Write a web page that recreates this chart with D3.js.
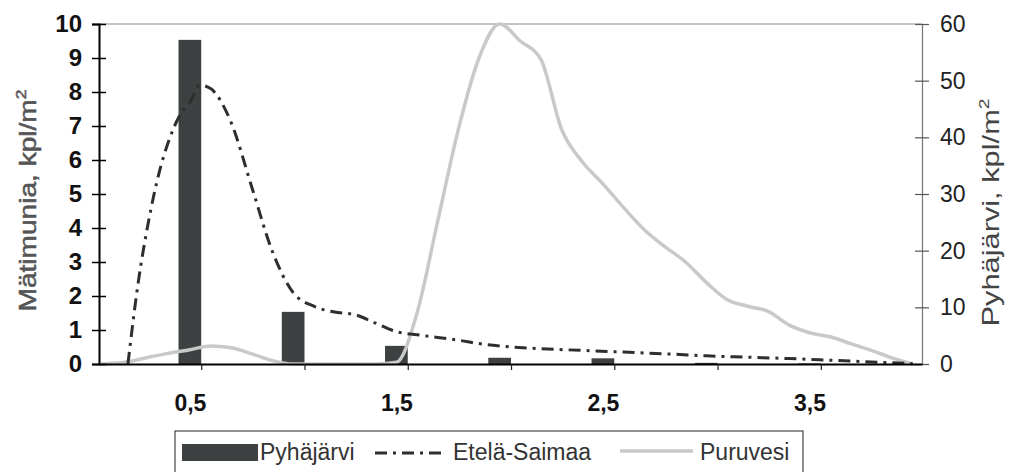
<!DOCTYPE html>
<html>
<head>
<meta charset="utf-8">
<script src="https://cdn.jsdelivr.net/npm/d3@7"></script>
<style>
  body { margin: 0; background: #fff; }
  svg { display: block; font-family: "Liberation Sans", Arial, sans-serif; }
</style>
</head>
<body>
<div id="chart"></div>
<script>
// Pyhäjärvi (pylväät, oikea akseli)
const barX = [0.5, 1, 1.5, 2, 2.5, 3, 3.5];
const pyhajarvi = [57.2, 9.2, 3.2, 1.1, 1.0, 0.2, 0.1];

// Etelä-Saimaa (vasen akseli)
const saimaaX = [0.2, 0.25, 0.3, 0.35, 0.4, 0.45, 0.5, 0.55, 0.6, 0.7, 0.8, 0.9, 1.0, 1.1, 1.2, 1.3, 1.4, 1.5,
  1.6, 1.7, 1.8, 1.9, 2.0, 2.2, 2.4, 2.6, 2.8, 3.0, 3.2, 3.4, 3.6, 3.8, 4.0];
const saimaa = [0, 2.4, 4.2, 5.6, 6.6, 7.3, 7.7, 8.2, 8.1, 7.1, 5.2, 3.3, 2.1, 1.7, 1.53, 1.45, 1.2, 0.95,
  0.86, 0.78, 0.7, 0.6, 0.53, 0.45, 0.4, 0.35, 0.3, 0.24, 0.2, 0.16, 0.11, 0.06, 0.01];

// Puruvesi (vasen akseli)
const puruX = [0.07, 0.2, 0.3, 0.4, 0.5, 0.6, 0.7, 0.8, 0.9, 1.0, 1.1, 1.2, 1.3, 1.4, 1.5, 1.6, 1.7, 1.8, 1.9, 2.0,
  2.1, 2.2, 2.3, 2.4, 2.5, 2.6, 2.7, 2.8, 2.9, 3.0, 3.1, 3.2, 3.3, 3.4, 3.5, 3.6, 3.7, 3.8, 3.9, 4.0];
const puruvesi = [0, 0.07, 0.2, 0.32, 0.42, 0.53, 0.48, 0.3, 0.1, 0, 0, 0, 0, 0, 0.05, 1.5, 4.2, 6.9, 9.0, 10,
  9.5, 8.95, 6.9, 5.95, 5.3, 4.6, 3.95, 3.45, 3.0, 2.4, 1.9, 1.7, 1.55, 1.15, 0.92, 0.8, 0.6, 0.4, 0.18, 0];

const xLabels = [0.5, 1.5, 2.5, 3.5];
const legendNames = ["Pyhäjärvi", "Etelä-Saimaa", "Puruvesi"];

const W = 1019, H = 472;
const plotL = 99, plotR = 922, plotT = 24, plotB = 364;

const svg = d3.select("#chart").append("svg")
  .attr("width", W)
  .attr("height", H);

const x = d3.scaleLinear().domain([0.06, 4.045]).range([plotL, plotR]);
const yL = d3.scaleLinear().domain([0, 10]).range([plotB, plotT]);
const yR = d3.scaleLinear().domain([0, 60]).range([plotB, plotT]);

const barHalf = 0.055;

// kehys ylhäällä
svg.append("line")
  .attr("x1", plotL).attr("x2", plotR).attr("y1", plotT).attr("y2", plotT)
  .attr("stroke", "#8a8a8a").attr("stroke-width", 1.2);

// pylväät
svg.append("g")
  .selectAll("rect")
  .data(barX.map((v, i) => ({ x: v, y: pyhajarvi[i] })))
  .enter().append("rect")
  .attr("x", d => x(d.x - barHalf))
  .attr("width", d => x(d.x + barHalf) - x(d.x - barHalf))
  .attr("y", d => yR(d.y))
  .attr("height", d => plotB - yR(d.y))
  .attr("fill", "#3d4141");

const line = d3.line()
  .x(d => x(d.x))
  .y(d => yL(d.y))
  .curve(d3.curveMonotoneX);

svg.append("path")
  .datum(puruX.map((v, i) => ({ x: v, y: puruvesi[i] })))
  .attr("d", line)
  .attr("fill", "none")
  .attr("stroke", "#c9c9c9")
  .attr("stroke-width", 3.5);

svg.append("path")
  .datum(saimaaX.map((v, i) => ({ x: v, y: saimaa[i] })))
  .attr("d", line)
  .attr("fill", "none")
  .attr("stroke", "#2e2e2e")
  .attr("stroke-width", 3)
  .attr("stroke-dasharray", "12,6,3,6");

// vasen akseli
const axL = svg.append("g")
  .attr("transform", `translate(${plotL},0)`)
  .call(d3.axisLeft(yL).ticks(10).tickSize(7).tickPadding(10));
axL.select(".domain").attr("stroke", "#000").attr("stroke-width", 2);
axL.selectAll(".tick line").attr("x1", 7).attr("stroke", "#000").attr("stroke-width", 1.5);
axL.selectAll(".tick text")
  .attr("font-size", 24).attr("font-weight", "bold").attr("fill", "#111")
  .attr("font-family", "Liberation Sans, Arial, sans-serif");

// oikea akseli
const axR = svg.append("g")
  .attr("transform", `translate(${plotR},0)`)
  .call(d3.axisRight(yR).ticks(6).tickSize(7).tickPadding(11));
axR.select(".domain").attr("stroke", "#777").attr("stroke-width", 1.2);
axR.selectAll(".tick line").attr("x1", -7).attr("stroke", "#555").attr("stroke-width", 1.2);
axR.selectAll(".tick text")
  .attr("font-size", 23).attr("fill", "#222")
  .attr("font-family", "Liberation Sans, Arial, sans-serif");

// x-akseli
const axB = svg.append("g")
  .attr("transform", `translate(0,${plotB})`)
  .call(d3.axisBottom(x).tickValues(xLabels).tickSize(0).tickPadding(31)
    .tickFormat(d => d3.format(".1f")(d).replace(".", ",")));
axB.select(".domain").attr("stroke", "#000").attr("stroke-width", 2);
axB.selectAll(".tick text")
  .attr("font-size", 23).attr("font-weight", "bold").attr("fill", "#111")
  .attr("font-family", "Liberation Sans, Arial, sans-serif");

const axTicks = svg.append("g")
  .attr("transform", `translate(0,${plotB})`)
  .call(d3.axisBottom(x).tickValues(barX.map(v => v + barHalf)).tickSize(6).tickFormat(""));
axTicks.select(".domain").remove();
axTicks.selectAll(".tick line").attr("stroke", "#222").attr("stroke-width", 1.2);

// akselien otsikot
svg.append("text")
  .attr("transform", `translate(36,${(88 + 313) / 2}) rotate(-90)`)
  .attr("text-anchor", "middle")
  .attr("font-size", 24)
  .attr("fill", "#555")
  .attr("stroke", "#555")
  .attr("stroke-width", 0.5)
  .attr("textLength", 222)
  .attr("lengthAdjust", "spacingAndGlyphs")
  .html('Mätimunia, kpl/m<tspan font-size="15" dy="-10">2</tspan>');

svg.append("text")
  .attr("transform", `translate(999,${(95 + 330) / 2}) rotate(-90)`)
  .attr("text-anchor", "middle")
  .attr("font-size", 24)
  .attr("fill", "#444")
  .attr("textLength", 228)
  .attr("lengthAdjust", "spacingAndGlyphs")
  .html('Pyhäjärvi, kpl/m<tspan font-size="15" dy="-10">2</tspan>');

// selite
const lg = svg.append("g");
lg.append("rect")
  .attr("x", 175).attr("y", 431).attr("width", 628).attr("height", 60)
  .attr("fill", "#fff").attr("stroke", "#444").attr("stroke-width", 1.2);
lg.append("rect")
  .attr("x", 182).attr("y", 444).attr("width", 76).attr("height", 17)
  .attr("fill", "#3d4141");
lg.append("line")
  .attr("x1", 375).attr("x2", 443).attr("y1", 453).attr("y2", 453)
  .attr("stroke", "#2e2e2e").attr("stroke-width", 3).attr("stroke-dasharray", "12,6,3,6");
lg.append("line")
  .attr("x1", 620).attr("x2", 693).attr("y1", 451).attr("y2", 451)
  .attr("stroke", "#c9c9c9").attr("stroke-width", 3.5);
const lgX = [260, 453, 700];
lg.selectAll("text.lg")
  .data(legendNames)
  .enter().append("text")
  .attr("class", "lg")
  .attr("x", (d, i) => lgX[i])
  .attr("y", 460)
  .attr("font-size", 23)
  .attr("fill", "#333")
  .text(d => d);
</script>
</body>
</html>
